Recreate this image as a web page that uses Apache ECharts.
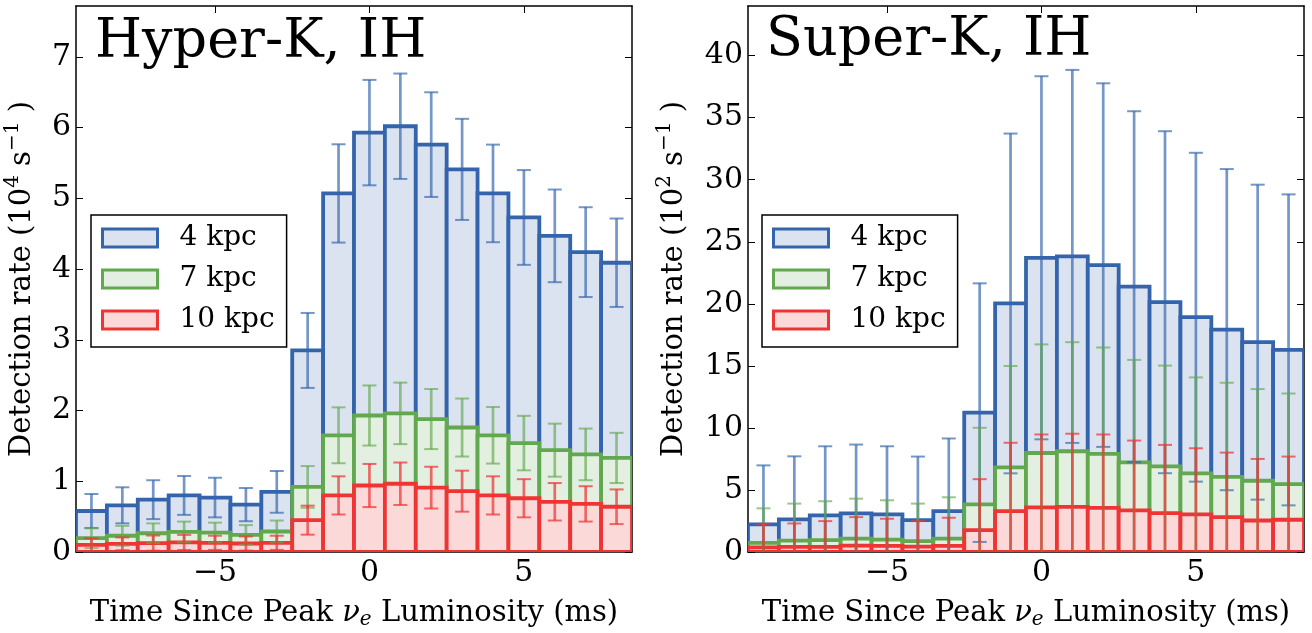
<!DOCTYPE html>
<html><head><meta charset="utf-8">
<script src="https://cdn.jsdelivr.net/npm/echarts@6/dist/echarts.min.js"></script>
<style>html,body{margin:0;padding:0;background:#fff}#c{width:1312px;height:633px}</style>
</head><body><div id="c"></div>
<script>
// ---- data ----
const binCenters = [-9,-8,-7,-6,-5,-4,-3,-2,-1,0,1,2,3,4,5,6,7,8];
const binWidth = 1;
const seriesNames = ['4 kpc','7 kpc','10 kpc'];

// Hyper-K, IH (10^4 s^-1)
const hk4 = [0.58,0.66,0.74,0.80,0.77,0.67,0.85,2.85,5.07,5.93,6.02,5.76,5.41,5.07,4.73,4.47,4.24,4.09];
const hk4Err = [0.24,0.255,0.275,0.275,0.28,0.235,0.295,0.53,0.695,0.745,0.745,0.74,0.715,0.69,0.67,0.655,0.635,0.625];
const hk7 = [0.195,0.23,0.265,0.284,0.275,0.242,0.29,0.92,1.65,1.93,1.96,1.88,1.76,1.65,1.54,1.44,1.38,1.33];
const hk7Err = [0.14,0.14,0.14,0.146,0.14,0.138,0.155,0.295,0.395,0.425,0.435,0.425,0.41,0.40,0.385,0.375,0.365,0.355];
const hk10 = [0.10,0.116,0.126,0.135,0.13,0.12,0.13,0.45,0.80,0.94,0.965,0.91,0.86,0.80,0.76,0.71,0.68,0.64];
const hk10Err = [0.095,0.09,0.107,0.107,0.10,0.10,0.10,0.205,0.27,0.305,0.30,0.295,0.29,0.27,0.27,0.265,0.25,0.245];

// Super-K, IH (10^2 s^-1)
const sk4 = [2.22,2.63,2.95,3.11,3.03,2.57,3.30,11.23,20.03,23.71,23.82,23.12,21.38,20.13,18.92,17.92,16.91,16.29];
const sk4Err = [4.76,5.08,5.57,5.55,5.49,5.12,5.85,10.42,13.69,14.63,15.03,14.65,14.14,13.78,13.25,12.94,12.69,12.53];
const sk7 = [0.73,0.92,0.95,1.08,1.00,0.87,1.08,3.84,6.82,7.98,8.12,7.90,7.23,6.90,6.33,6.06,5.74,5.47];
const sk7Err = [2.79,2.98,3.14,3.22,3.17,3.03,3.33,6.17,8.17,8.75,8.79,8.58,8.25,8.12,7.74,7.58,7.39,7.30];
const sk10 = [0.38,0.41,0.41,0.51,0.49,0.43,0.49,1.76,3.30,3.60,3.63,3.55,3.36,3.14,3.03,2.81,2.54,2.60];
const sk10Err = [1.89,1.89,2.08,2.30,2.19,2.06,2.27,4.11,5.50,5.87,5.90,5.92,5.62,5.49,5.33,5.20,4.96,5.09];

const xTicks = [-5, 0, 5];
const hkYTicks = [0,1,2,3,4,5,6,7];
const skYTicks = [0,5,10,15,20,25,30,35,40];
const xRange = [-9.5, 8.5];
const hkYMax = 7.72;
const skYMax = 44;
const titles = ['Hyper-K, IH', 'Super-K, IH'];
const xTitle = 'Time Since Peak {nu|ν}{sub|e} Luminosity (ms)';
const yTitles = ['Detection rate (10{sup|4} s{sup|−1} )', 'Detection rate (10{sup|2} s{sup|−1} )'];

// ---- style ----
const FONT = 'DejaVu Serif';
const edge = ['#3465ac', '#62a84f', '#ef3434'];
const fill = ['#dbe3f0', '#e3efe0', '#fbd9d9'];
const errCol = ['rgba(52,101,172,0.68)', 'rgba(98,168,79,0.65)', 'rgba(239,52,52,0.72)'];

function histSeries(k, vals, idx) {
  return {
    type: 'custom', name: seriesNames[k], xAxisIndex: idx, yAxisIndex: idx,
    clip: true, z: 2 + k * 0.1,
    itemStyle: { color: fill[k], borderColor: edge[k], borderWidth: 3 },
    data: binCenters.map((c, i) => [c, vals[i]]),
    renderItem: function (params, api) {
      const x = api.value(0), y = api.value(1);
      const p0 = api.coord([x - binWidth / 2, y]);
      const p1 = api.coord([x + binWidth / 2, 0]);
      return { type: 'rect',
        shape: { x: p0[0], y: p0[1], width: p1[0] - p0[0], height: p1[1] - p0[1] },
        style: { fill: fill[k], stroke: edge[k], lineWidth: 3.8 } };
    }
  };
}
function errSeries(k, vals, errs, idx) {
  return {
    type: 'custom', name: 'err' + k + '_' + idx, xAxisIndex: idx, yAxisIndex: idx,
    clip: true, z: 3 + k * 0.1, silent: true,
    data: binCenters.map((c, i) => [c, vals[i], errs[i]]),
    renderItem: function (params, api) {
      const x = api.value(0), y = api.value(1), e = api.value(2);
      const t = api.coord([x, y + e]);
      const b = api.coord([x, y - e]);
      const cap = 7;
      return { type: 'group', children: [
        { type: 'line', shape: { x1: t[0], y1: t[1], x2: b[0], y2: b[1] }, style: { stroke: errCol[k], lineWidth: 2.7 } },
        { type: 'line', shape: { x1: t[0] - cap, y1: t[1], x2: t[0] + cap, y2: t[1] }, style: { stroke: errCol[k], lineWidth: 2 } },
        { type: 'line', shape: { x1: b[0] - cap, y1: b[1], x2: b[0] + cap, y2: b[1] }, style: { stroke: errCol[k], lineWidth: 2 } }
      ] };
    }
  };
}

const fmt = v => (v < 0 ? '\u2212' + Math.abs(v) : String(v));
const grids = [
  { left: 76, right: 680, top: 6, bottom: 81, outerBoundsMode: 'none', containLabel: false },
  { left: 748, right: 8, top: 6, bottom: 81, outerBoundsMode: 'none', containLabel: false }
];
const axisLineStyle = { color: '#000', width: 1.5 };
const tickStyle = { color: '#000', width: 1 };

function xAxisFor(i, pos) {
  const bottom = pos === 'bottom';
  return {
    type: 'value', gridIndex: i, position: pos, min: xRange[0], max: xRange[1],
    axisLine: { show: true, onZero: false, lineStyle: axisLineStyle },
    axisTick: { show: true, inside: true, length: 7, customValues: xTicks, lineStyle: tickStyle },
    axisLabel: { show: bottom, customValues: xTicks, formatter: fmt, fontFamily: FONT, fontSize: 30, color: '#000', margin: 6 },
    splitLine: { show: false },
    name: bottom ? xTitle : '', nameLocation: 'middle', nameGap: 44,
    nameTextStyle: { fontFamily: FONT, fontSize: 29, color: '#000',
      rich: { nu: { fontFamily: FONT, fontSize: 29, fontStyle: 'italic', color: '#000' },
              sub: { fontFamily: FONT, fontSize: 20, fontStyle: 'italic', color: '#000', padding: [14, 0, 0, 0] } } }
  };
}
function yAxisFor(i, pos, max, ticks, gap) {
  const left = pos === 'left';
  return {
    type: 'value', gridIndex: i, position: pos, min: 0, max: max,
    axisLine: { show: true, onZero: false, lineStyle: axisLineStyle },
    axisTick: { show: true, inside: true, length: 7, customValues: ticks, lineStyle: tickStyle },
    axisLabel: { show: left, customValues: ticks, formatter: fmt, fontFamily: FONT, fontSize: 30, color: '#000', margin: 5 },
    splitLine: { show: false },
    name: left ? yTitles[i] : '', nameLocation: 'middle', nameRotate: 90, nameGap: gap,
    nameTextStyle: { fontFamily: FONT, fontSize: 29, color: '#000',
      rich: { sup: { fontFamily: FONT, fontSize: 20, color: '#000', padding: [0, 0, 18, 0] } } }
  };
}
function legendFor(left) {
  return {
    left: left, top: 215, orient: 'vertical', selectedMode: false,
    backgroundColor: '#fff', borderColor: '#000', borderWidth: 1.5, borderRadius: 0,
    padding: [9, 12, 13, 10], itemWidth: 55, itemHeight: 18, itemGap: 13,
    textStyle: { fontFamily: FONT, fontSize: 28, color: '#000', padding: [0, 0, 0, 17] },
    data: seriesNames.map((n, k) => ({ name: n, icon: 'rect',
      itemStyle: { color: fill[k], borderColor: edge[k], borderWidth: 3 } }))
  };
}

const series = [];
[[hk4, hk7, hk10], [sk4, sk7, sk10]].forEach((arr, i) => arr.forEach((v, k) => series.push(histSeries(k, v, i))));
[[[hk4, hk4Err], [hk7, hk7Err], [hk10, hk10Err]], [[sk4, sk4Err], [sk7, sk7Err], [sk10, sk10Err]]]
  .forEach((arr, i) => arr.forEach((p, k) => series.push(errSeries(k, p[0], p[1], i))));

const option = {
  animation: false,
  backgroundColor: '#fff',
  grid: grids,
  xAxis: [xAxisFor(0, 'bottom'), xAxisFor(1, 'bottom'), xAxisFor(0, 'top'), xAxisFor(1, 'top')],
  yAxis: [yAxisFor(0, 'left', hkYMax, hkYTicks, 35), yAxisFor(1, 'left', skYMax, skYTicks, 55),
          yAxisFor(0, 'right', hkYMax, hkYTicks, 0), yAxisFor(1, 'right', skYMax, skYTicks, 0)],
  legend: [legendFor(91), legendFor(762)],
  graphic: [
    { type: 'text', x: 95, y: 42.5, z: 10, style: { text: titles[0], font: '54px "DejaVu Serif"', fill: '#000', verticalAlign: 'middle' } },
    { type: 'text', x: 766, y: 40.5, z: 10, style: { text: titles[1], font: '54px "DejaVu Serif"', fill: '#000', verticalAlign: 'middle' } }
  ],
  series: series
};
const chart = echarts.init(document.getElementById('c'), null, { renderer: 'canvas' });
chart.setOption(option);
</script>
</body></html>
